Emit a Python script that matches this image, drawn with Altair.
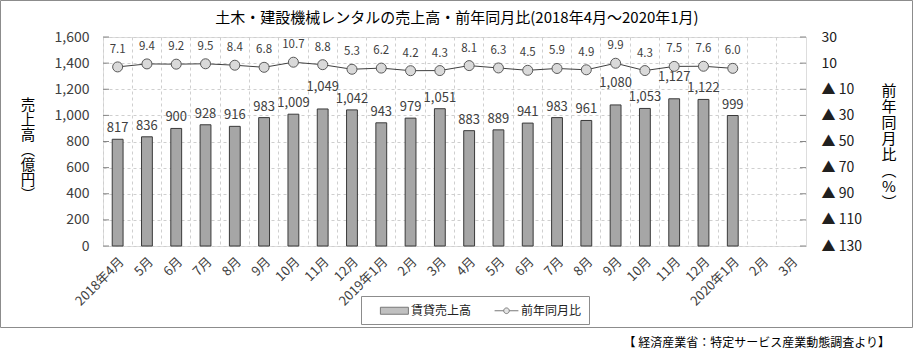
import json
import altair as alt
import pandas as pd

# ---- data ----
month_labels = ["2018年4月", "5月", "6月", "7月", "8月", "9月", "10月", "11月", "12月",
                "2019年1月", "2月", "3月", "4月", "5月", "6月", "7月", "8月", "9月", "10月",
                "11月", "12月", "2020年1月", "2月", "3月"]
sales = [817, 836, 900, 928, 916, 983, 1009, 1049, 1042, 943, 979, 1051,
         883, 889, 941, 983, 961, 1080, 1053, 1127, 1122, 999]
yoy = [7.1, 9.4, 9.2, 9.5, 8.4, 6.8, 10.7, 8.8, 5.3, 6.2, 4.2, 4.3,
       8.1, 6.3, 4.5, 5.9, 4.9, 9.9, 4.3, 7.5, 7.6, 6.0]
series_names = ["賃貸売上高", "前年同月比"]
left_ticks = [0, 200, 400, 600, 800, 1000, 1200, 1400, 1600]
right_ticks = [-130, -110, -90, -70, -50, -30, -10, 10, 30]
# bar labels that the original lifts to avoid their neighbours (style only)
lifted_labels = [7, 17, 19]

n = len(month_labels)
df = pd.DataFrame({
    "idx": list(range(n)),
    "sales": sales + [None] * (n - len(sales)),
    "yoy": yoy + [None] * (n - len(yoy)),
})

FONT = "Noto Sans CJK JP"
W, H = 703, 209

label_expr = json.dumps(month_labels, ensure_ascii=False) + "[datum.value]"

x_enc = alt.X(
    "idx:O",
    scale=alt.Scale(domain=list(range(n)), paddingInner=0, paddingOuter=0),
    axis=alt.Axis(
        title=None, bandPosition=0, grid=True, gridColor="#cfcfcf", gridDash=[3, 3],
        ticks=False, domain=False, labelAngle=-45, labelAlign="right", labelBaseline="top",
        labelPadding=9, labelExpr=label_expr, labelOverlap=False,
        labelFontSize=13, labelColor="#404040", labelFont=FONT,
    ),
)

base = alt.Chart(df)

bars = base.transform_filter("isValid(datum.sales)").mark_bar(
    width=alt.RelativeBandSize(0.37), color="#a6a6a6", stroke="#3a3a3a", strokeWidth=1
).encode(
    x=x_enc,
    y=alt.Y("sales:Q", scale=alt.Scale(domain=[0, 1600], nice=False),
            axis=alt.Axis(title=None, values=left_ticks, tickCount=len(left_ticks),
                          format=",.0f", grid=True,
                          gridColor="#cfcfcf", gridDash=[3, 3], ticks=False, domain=False,
                          labelOverlap=False, labelPadding=14, labelFontSize=14,
                          labelColor="#404040", labelFont=FONT, orient="left")),
)
bar_text = base.transform_filter("isValid(datum.sales)").transform_filter(
    {"not": alt.FieldOneOfPredicate(field="idx", oneOf=lifted_labels)}
).mark_text(
    baseline="bottom", dy=-4, fontSize=13, color="#404040", font=FONT
).encode(
    x=alt.X("idx:O"),
    y=alt.Y("sales:Q"),
    text=alt.Text("sales:Q", format=","),
)
bar_text_lifted = base.transform_filter("isValid(datum.sales)").transform_filter(
    alt.FieldOneOfPredicate(field="idx", oneOf=lifted_labels)
).mark_text(
    baseline="bottom", dy=-15, fontSize=13, color="#404040", font=FONT
).encode(
    x=alt.X("idx:O"),
    y=alt.Y("sales:Q"),
    text=alt.Text("sales:Q", format=","),
)
left_tick_marks = alt.Chart(pd.DataFrame({"t": left_ticks})).mark_rule(
    color="#868686", strokeWidth=1
).encode(y=alt.Y("t:Q"), x=alt.value(0), x2=alt.value(6))
left_layer = alt.layer(bars, bar_text, bar_text_lifted, left_tick_marks)

yr = alt.Y("yoy:Q", scale=alt.Scale(domain=[-130, 30], nice=False),
           axis=alt.Axis(title=None, values=right_ticks, tickCount=len(right_ticks),
                         orient="right", grid=False,
                         ticks=False, domain=False, labelPadding=15, labelFontSize=14,
                         labelOverlap=False, labelColor="#202020", labelFont=FONT,
                         labelExpr="datum.value < 0 ? '▲ ' + abs(datum.value) : datum.value"))
line = base.transform_filter("isValid(datum.yoy)").mark_line(
    color="#404040", strokeWidth=1
).encode(x=alt.X("idx:O"), y=yr)
pts = base.transform_filter("isValid(datum.yoy)").mark_point(
    shape="circle", filled=True, fill="#d9d9d9", stroke="#595959", strokeWidth=1,
    size=100, opacity=1
).encode(x=alt.X("idx:O"), y=alt.Y("yoy:Q"))
yoy_text = base.transform_filter("isValid(datum.yoy)").mark_text(
    baseline="middle", dy=-17, fontSize=11.5, color="#404040", font=FONT
).encode(x=alt.X("idx:O"), y=alt.Y("yoy:Q"), text=alt.Text("yoy:Q", format=".1f"))
right_tick_marks = alt.Chart(pd.DataFrame({"t": right_ticks})).mark_rule(
    color="#868686", strokeWidth=1
).encode(y=alt.Y("t:Q"), x=alt.value(W - 6), x2=alt.value(W))
right_layer = alt.layer(line, pts, yoy_text, right_tick_marks)

# ---- legend (library legend, custom symbol paths) ----
bar_path = "M0.7,-0.5H4.7V0.5H0.7Z"
line_path = ("M1.3,0H2.6M3.4,0H4.7M3.4,0A0.4,0.4,0,1,1,2.6,0A0.4,0.4,0,1,1,3.4,0Z")
leg = alt.Legend(
    title=None, orient="none", legendX=258, legendY=259, direction="horizontal",
    strokeColor="#8c8c8c", padding=7, symbolSize=196, labelFontSize=12, labelFont=FONT,
    labelColor="#202020", labelOffset=28, columnPadding=6,
    symbolStrokeColor="#404040", symbolStrokeWidth=1,
)
legend_layer = alt.Chart(alt.Data(values=[{"series": series_names[0]}])).transform_filter(
    "false"
).mark_point(filled=True, stroke="#404040").encode(
    color=alt.Color("series:N", scale=alt.Scale(domain=series_names, range=["#a6a6a6", "#d9d9d9"]), legend=leg),
    shape=alt.Shape("series:N", scale=alt.Scale(domain=series_names, range=[bar_path, line_path]), legend=leg),
)

# ---- decorations ----
one = alt.Data(values=[{"a": 1}])
frame = alt.Chart(one).mark_rect(fill="transparent", stroke="#8c8c8c", strokeWidth=1).encode(
    x=alt.value(-102.5), x2=alt.value(809.5), y=alt.value(-36.5), y2=alt.value(290.5)
)
title = alt.Chart(one).mark_text(fontSize=15, font=FONT, color="#000000", baseline="middle",
                                 align="center").encode(
    x=alt.value(354), y=alt.value(-19),
    text=alt.value("土木・建設機械レンタルの売上高・前年同月比(2018年4月～2020年1月)"))
ltitle = alt.Chart(one).mark_text(fontSize=14.5, font=FONT, color="#000000", baseline="top",
                                  align="center", lineBreak="\n", lineHeight=15).encode(
    x=alt.value(-75), y=alt.value(62), text=alt.value("売\n上\n高\n︵\n億\n円\n︶"))
rtitle = alt.Chart(one).mark_text(fontSize=15, font=FONT, color="#000000", baseline="top",
                                  align="center", lineBreak="\n", lineHeight=16).encode(
    x=alt.value(786), y=alt.value(47), text=alt.value("前\n年\n同\n月\n比\n︵\n%\n︶"))
source = alt.Chart(one).mark_text(fontSize=12, font=FONT, color="#000000", baseline="middle",
                                  align="right").encode(
    x=alt.value(787), y=alt.value(306), text=alt.value("【 経済産業省：特定サービス産業動態調査より】"))

chart = alt.layer(
    alt.layer(left_layer, right_layer).resolve_scale(y="independent"),
    legend_layer, frame, title, ltitle, rtitle, source,
).properties(
    width=W, height=H,
    autosize=alt.AutoSizeParams(type="none"),
    padding={"left": 103, "top": 37, "right": 108, "bottom": 111},
).configure_view(stroke="#868686", strokeWidth=1).configure(
    font=FONT, background="white"
)

chart.save("out.html", embed_options={"renderer": "svg", "actions": False})
